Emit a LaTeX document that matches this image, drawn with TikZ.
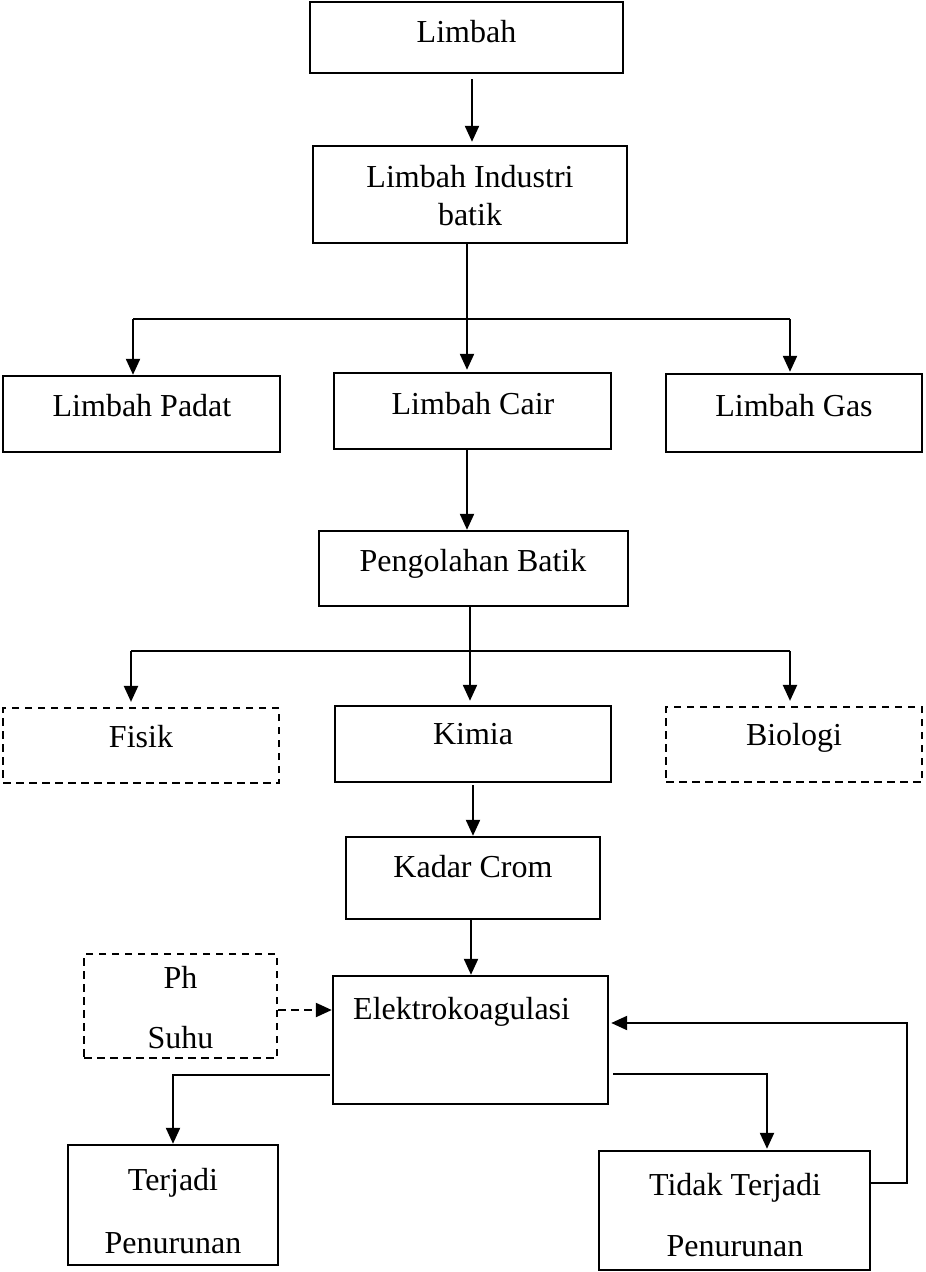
\documentclass[tikz,border=0pt]{standalone}
\usepackage{fontspec}
\setmainfont{Liberation Serif}
\usetikzlibrary{arrows.meta,fit,calc}
\begin{document}
\begin{tikzpicture}[x=1pt,y=-1pt,
  box/.style={draw, line width=2.4pt, rectangle, inner sep=0pt},
  dbox/.style={box, line width=2.2pt, dash pattern=on 7.5pt off 5.5pt},
  conn/.style={line width=2.2pt},
  arr/.style={conn, -{Triangle[length=16pt,width=14pt]}},
  txt/.style={font=\fontsize{32}{38}\selectfont, anchor=base, inner sep=0pt}]
\useasboundingbox (0,0) rectangle (926,1272);

% boxes
\node[box,  fit={(310,2)(623,73)}]      (limbah) {};
\node[box,  fit={(313,146)(627,243)}]   (industri) {};
\node[box,  fit={(3,376)(280,452)}]     (padat) {};
\node[box,  fit={(334,373)(611,449)}]   (cair) {};
\node[box,  fit={(666,374)(922,452)}]   (gas) {};
\node[box,  fit={(319,531)(628,606)}]   (pengolahan) {};
\node[dbox, fit={(3,708)(279,783)}]     (fisik) {};
\node[box,  fit={(335,706)(611,782)}]   (kimia) {};
\node[dbox, fit={(666,707)(922,782)}]   (biologi) {};
\node[box,  fit={(346,837)(600,919)}]   (kadar) {};
\node[box,  fit={(333,976)(608,1104)}]  (elektro) {};
\node[dbox, fit={(84,954)(277,1058)}]   (phsuhu) {};
\node[box,  fit={(68,1145)(278,1265)}]  (terjadi) {};
\node[box,  fit={(599,1151)(870,1270)}] (tidak) {};

% texts
\node[txt] (t-limbah)   at (466.5,42)  {Limbah};
\node[txt] (t-ind1)     at (470,187)   {Limbah Industri};
\node[txt] (t-ind2)     at (470,225)   {batik};
\node[txt] (t-padat)    at (142,416)   {Limbah Padat};
\node[txt] (t-cair)     at (473,414)   {Limbah Cair};
\node[txt] (t-gas)      at (794,416)   {Limbah Gas};
\node[txt] (t-peng)     at (473,571)   {Pengolahan Batik};
\node[txt] (t-fisik)    at (141,747)   {Fisik};
\node[txt] (t-kimia)    at (473,744)   {Kimia};
\node[txt] (t-bio)      at (794,745)   {Biologi};
\node[txt] (t-kadar)    at (473,877)   {Kadar Crom};
\node[txt, anchor=base west] (t-elektro) at (353,1019) {Elektrokoagulasi};
\node[txt] (t-ph)       at (180.5,988) {Ph};
\node[txt] (t-suhu)     at (180.5,1048) {Suhu};
\node[txt] (t-terj1)    at (173,1190)  {Terjadi};
\node[txt] (t-terj2)    at (173,1253)  {Penurunan};
\node[txt] (t-tid1)     at (735,1195)  {Tidak Terjadi};
\node[txt] (t-tid2)     at (735,1256)  {Penurunan};

% connectors
\draw[arr, shorten <=5pt, shorten >=3pt] ([xshift=5.5pt]limbah.south) -- ([xshift=2pt]industri.north);

\coordinate (j1)  at (467,319);
\coordinate (j1l) at (133,319);
\coordinate (j1r) at (790,319);
\draw[arr, shorten >=2pt] (industri.south -| j1) -- (j1 |- cair.north);
\draw[conn] (j1l) -- (j1r);
\draw[arr] (j1l) -- (j1l |- padat.north);
\draw[arr, shorten >=1pt] (j1r) -- (j1r |- gas.north);

\draw[arr] (cair.south -| j1) -- (j1 |- pengolahan.north);

\coordinate (j2)  at (470,651);
\coordinate (j2l) at (131,651);
\coordinate (j2r) at (790,651);
\draw[arr, shorten >=4pt] (pengolahan.south -| j2) -- (j2 |- kimia.north);
\draw[conn] (j2l) -- (j2r);
\draw[arr, shorten >=5pt] (j2l) -- (j2l |- fisik.north);
\draw[arr, shorten >=5pt] (j2r) -- (j2r |- biologi.north);

\coordinate (k1) at (473,0);
\draw[arr, shorten <=2pt] (kimia.south -| k1) -- (k1 |- kadar.north);

\coordinate (k2) at (471,0);
\draw[arr] (kadar.south -| k2) -- (k2 |- elektro.north);

\coordinate (d1) at (0,1010);
\draw[arr, dash pattern=on 8pt off 5pt] (phsuhu.east |- d1) -- (elektro.west |- d1);

\coordinate (e1) at (173,1075);
\draw[arr] ([xshift=-2pt]elektro.west |- e1) -- (e1) -- (e1 |- terjadi.north);

\coordinate (e2) at (767,1074);
\draw[arr, shorten >=1pt] ([xshift=4pt]elektro.east |- e2) -- (e2) -- (e2 |- tidak.north);

\coordinate (f1) at (907,1183);
\coordinate (f2) at (907,1023);
\draw[arr] (tidak.east |- f1) -- (f1) -- (f2) -- ([xshift=2pt]elektro.east |- f2);
\end{tikzpicture}
\end{document}
